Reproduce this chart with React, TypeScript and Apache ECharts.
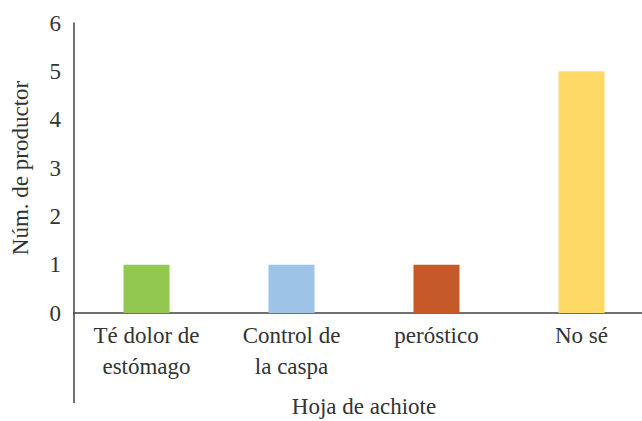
import React, { useEffect, useRef } from "react";
import * as echarts from "echarts";

const categories = ["Té dolor de\nestómago", "Control de\nla caspa", "peróstico", "No sé"];
const values = [1, 1, 1, 5];
const colors = ["#92C850", "#9DC3E6", "#C55A28", "#FFD966"];
const yTicks = [0, 1, 2, 3, 4, 5, 6];

const FONT = "Liberation Serif";
const FS = 23;

export default function App() {
  const ref = useRef<HTMLDivElement>(null);
  useEffect(() => {
    if (!ref.current) return;
    const chart = echarts.init(ref.current, null, { renderer: "svg" });
    chart.setOption({
      animation: false,
      textStyle: { fontFamily: FONT },
      grid: { left: 74, right: -12, top: 23, bottom: 108, containLabel: false, outerBoundsMode: "none" },
      xAxis: {
        type: "category",
        data: categories,
        name: "Hoja de achiote",
        nameLocation: "middle",
        nameGap: 82,
        nameTextStyle: { fontFamily: FONT, fontSize: FS, color: "#333" },
        axisLine: { show: true, lineStyle: { color: "#404040", width: 1.5 } },
        axisTick: { show: false },
        axisLabel: {
          fontFamily: FONT,
          fontSize: FS,
          color: "#333",
          lineHeight: 31,
          margin: 7,
          interval: 0,
        },
      },
      yAxis: {
        type: "value",
        min: yTicks[0],
        max: yTicks[yTicks.length - 1],
        interval: 1,
        name: "Núm. de productor",
        nameLocation: "middle",
        nameGap: 42,
        nameTextStyle: { fontFamily: FONT, fontSize: FS, color: "#333" },
        axisLine: { show: true, lineStyle: { color: "#404040", width: 1.5 } },
        axisTick: { show: false },
        splitLine: { show: false },
        axisLabel: { fontFamily: FONT, fontSize: FS, color: "#333", margin: 13 },
      },
      graphic: [
        {
          type: "line",
          shape: { x1: 74, y1: 313, x2: 74, y2: 403 },
          style: { stroke: "#404040", lineWidth: 1.5 },
        },
      ],
      series: [
        {
          type: "bar",
          barWidth: 46,
          data: values.map((v, i) => ({ value: v, itemStyle: { color: colors[i] } })),
        },
      ],
    });
    return () => chart.dispose();
  }, []);
  return <div ref={ref} style={{ width: 642, height: 421, position: "absolute", left: 0, top: 0 }} />;
}
